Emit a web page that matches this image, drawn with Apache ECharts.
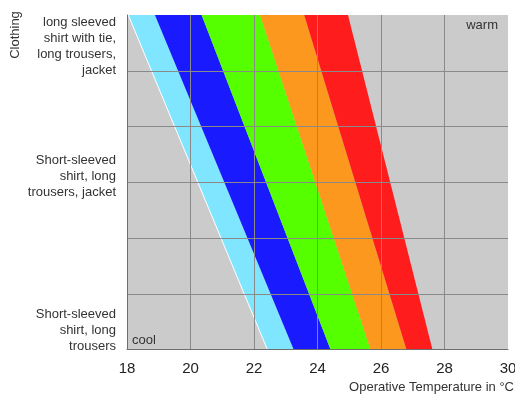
<!DOCTYPE html>
<html>
<head>
<meta charset="utf-8">
<script src="https://cdn.jsdelivr.net/npm/echarts@6/dist/echarts.min.js"></script>
<style>html,body{margin:0;padding:0;background:#fff}#c{width:515px;height:398px}</style>
</head>
<body>
<div id="c"></div>
<script>
// Temperature (°C) of each band boundary at the top (clothing level 6) and bottom (level 0)
const topEdges    = [18.04, 18.88, 20.35, 22.19, 23.58, 24.96];
const bottomEdges = [22.42, 23.25, 24.41, 25.67, 26.80, 27.62];
const levelTop = 6;
const levelBottom = 0;
// Clothing labels and the level at which each is placed
const clothingLabels = [
  'Short-sleeved\nshirt, long\ntrousers',
  'Short-sleeved\nshirt, long\ntrousers, jacket',
  'long sleeved\nshirt with tie,\nlong trousers,\njacket'
];
const clothingLevels = [0.34, 3.11, 5.44];
const xTicks = [18, 20, 22, 24, 26, 28, 30];

const bandColors = ['#80e5ff', '#1a1aff', '#55ff00', '#fd981e', '#ff1c1c'];

const bands = [];
for (let i = 0; i < topEdges.length - 1; i++) {
  bands.push([topEdges[i], topEdges[i + 1], bottomEdges[i + 1], bottomEdges[i], i]);
}

const chart = echarts.init(document.getElementById('c'), null, {renderer: 'canvas'});
chart.setOption({
  animation: false,
  grid: {left: 127, right: 7, top: 15, bottom: 48.5, show: true, backgroundColor: '#cbcbcb', borderWidth: 0,
         containLabel: false, outerBoundsMode: 'none'},
  xAxis: {
    type: 'value', min: xTicks[0], max: xTicks[xTicks.length - 1], interval: 2, z: 5,
    axisLine: {show: true, lineStyle: {color: '#6e6e6e', width: 1}},
    axisTick: {show: false},
    splitLine: {show: true, showMinLine: false, showMaxLine: false, lineStyle: {color: '#8a8a8a', width: 1}},
    axisLabel: {fontSize: 15, color: '#222', margin: 12, fontFamily: 'Liberation Sans, Arial, sans-serif'},
    name: 'Operative Temperature in °C', nameLocation: 'end', nameGap: 6,
    nameTextStyle: {fontSize: 13, color: '#333', align: 'right', verticalAlign: 'top', padding: [31, 0, 0, 0], fontFamily: 'Liberation Sans, Arial, sans-serif'}
  },
  yAxis: {
    type: 'value', min: levelBottom, max: levelTop, interval: 1, z: 5,
    axisLine: {show: true, lineStyle: {color: '#6e6e6e', width: 1}},
    axisTick: {show: false},
    splitLine: {show: true, showMinLine: false, showMaxLine: false, lineStyle: {color: '#8a8a8a', width: 1}},
    axisLabel: {
      customValues: clothingLevels,
      fontSize: 13, lineHeight: 16, color: '#333', margin: 11, align: 'right', verticalAlign: 'middle',
      fontFamily: 'Liberation Sans, Arial, sans-serif',
      formatter: function (v) {
        for (let i = 0; i < clothingLevels.length; i++) {
          if (Math.abs(clothingLevels[i] - v) < 1e-6) return clothingLabels[i];
        }
        return '';
      }
    }
  },
  graphic: [
    {type: 'text', x: 15, y: 35, rotation: Math.PI / 2, style: {text: 'Clothing', fontSize: 13, fill: '#333', align: 'center', verticalAlign: 'middle', fontFamily: 'Liberation Sans, Arial, sans-serif'}},
    {type: 'text', x: 498, y: 25, style: {text: 'warm', fontSize: 13, fill: '#333', align: 'right', verticalAlign: 'middle', fontFamily: 'Liberation Sans, Arial, sans-serif'}},
    {type: 'text', x: 132, y: 340, style: {text: 'cool', fontSize: 13, fill: '#333', align: 'left', verticalAlign: 'middle', fontFamily: 'Liberation Sans, Arial, sans-serif'}}
  ],
  series: [
    {
      type: 'custom', z: 1, silent: true,
      encode: {x: [0, 1, 2, 3]},
      data: bands,
      renderItem: function (params, api) {
        const tl = api.coord([api.value(0), levelTop]);
        const tr = api.coord([api.value(1), levelTop]);
        const br = api.coord([api.value(2), levelBottom]);
        const bl = api.coord([api.value(3), levelBottom]);
        return {
          type: 'polygon',
          shape: {points: [tl, tr, br, bl]},
          style: {fill: bandColors[api.value(4)], stroke: null}
        };
      }
    },
    {
      type: 'line', z: 1, silent: true, symbol: 'none',
      data: [[topEdges[0], levelTop], [bottomEdges[0], levelBottom]],
      lineStyle: {color: '#ffffff', width: 1}
    }
  ]
});
</script>
</body>
</html>
